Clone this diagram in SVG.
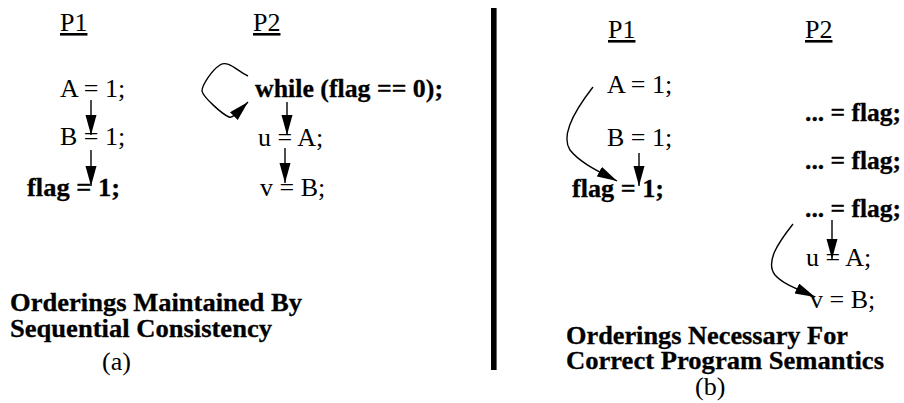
<svg xmlns="http://www.w3.org/2000/svg" width="904" height="403" viewBox="0 0 904 403">
<style>
text{font-family:"Liberation Serif","Times New Roman",serif;font-size:26px;fill:#000}
.b{font-weight:bold;stroke:#000;stroke-width:0.3}
.u{text-decoration:underline}
.c{fill:none;stroke:#000;stroke-width:1.4;marker-end:url(#ah)}
</style>
<defs>
<marker id="ah" markerUnits="userSpaceOnUse" markerWidth="22" markerHeight="12" refX="20" refY="5.5" orient="auto">
<path d="M0,0 L20,5.5 L0,11 z" fill="#000"/>
</marker>
</defs>
<rect x="491" y="8" width="5.6" height="362" fill="#000"/>
<g id="a-p1"><text class="u" x="60" y="31">P1</text></g>
<g id="a-p2"><text class="u" x="253" y="31">P2</text></g>
<g id="a-s1"><text x="60" y="97">A = 1;</text></g>
<g id="a-s2"><text x="60" y="145">B = 1;</text></g>
<g id="a-s3"><text class="b" x="27" y="196" textLength="93" lengthAdjust="spacingAndGlyphs">flag = 1;</text></g>
<g id="a-t1"><text class="b" x="255" y="97" textLength="188" lengthAdjust="spacingAndGlyphs">while (flag == 0);</text></g>
<g id="a-t2"><text x="258" y="146">u = A;</text></g>
<g id="a-t3"><text x="260" y="196">v = B;</text></g>
<g id="a-cap"><text class="b" x="10" y="311" textLength="292" lengthAdjust="spacingAndGlyphs">Orderings Maintained By</text><text class="b" x="10" y="337" textLength="262" lengthAdjust="spacingAndGlyphs">Sequential Consistency</text><text x="102" y="370">(a)</text></g>
<g id="b-p1"><text class="u" x="608" y="38">P1</text></g>
<g id="b-p2"><text class="u" x="805" y="38">P2</text></g>
<g id="b-s1"><text x="607" y="93">A = 1;</text></g>
<g id="b-s2"><text x="607" y="146">B = 1;</text></g>
<g id="b-s3"><text class="b" x="572" y="197" textLength="92" lengthAdjust="spacingAndGlyphs">flag = 1;</text></g>
<g id="b-t1"><text class="b" x="805" y="121" textLength="96" lengthAdjust="spacingAndGlyphs">... = flag;</text></g>
<g id="b-t2"><text class="b" x="805" y="169" textLength="96" lengthAdjust="spacingAndGlyphs">... = flag;</text></g>
<g id="b-t3"><text class="b" x="805" y="217" textLength="96" lengthAdjust="spacingAndGlyphs">... = flag;</text></g>
<g id="b-t4"><text x="806" y="266">u = A;</text></g>
<g id="b-t5"><text x="810" y="308">v = B;</text></g>
<g id="b-cap"><text class="b" x="566" y="344" textLength="282" lengthAdjust="spacingAndGlyphs">Orderings Necessary For</text><text class="b" x="566" y="369" textLength="318" lengthAdjust="spacingAndGlyphs">Correct Program Semantics</text><text x="695" y="395">(b)</text></g>
<g id="connectors">
<path class="c" d="M91,100 L91,135"/>
<path class="c" d="M91,150 L91,186"/>
<path class="c" d="M287,102 L287,135"/>
<path class="c" d="M285,148 L285,183"/>
<path class="c" d="M248,76 C236,70 228,60 220,65 C212,70 202,85 202,91 C203,97 222,114 229,117 C233,119 240,110 248,102"/>
<path class="c" d="M593,87 C575,110 560,135 570,150 C580,163 600,172 617,181"/>
<path class="c" d="M639,153 L639,186"/>
<path class="c" d="M832,220 L832,259"/>
<path class="c" d="M793,224 C778,243 765,262 775,275 C784,285 800,290 815,297"/>
</g>
</svg>
